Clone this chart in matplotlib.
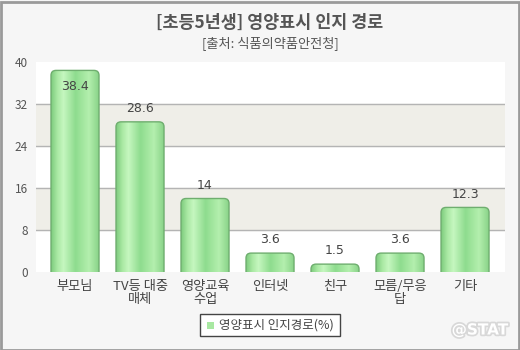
import numpy as np
import matplotlib.pyplot as plt
from matplotlib.patches import FancyBboxPatch, Rectangle
from matplotlib.colors import LinearSegmentedColormap
import matplotlib.patheffects as pe

plt.rcParams['font.family'] = ['Noto Sans CJK KR', 'DejaVu Sans']

categories = ['부모님', 'TV등 대중\n매체', '영양교육\n수업', '인터넷', '친구', '모름/무응\n답', '기타']
values = [38.4, 28.6, 14, 3.6, 1.5, 3.6, 12.3]
value_labels = ['38.4', '28.6', '14', '3.6', '1.5', '3.6', '12.3']
yticks = [0, 8, 16, 24, 32, 40]
series_name = '영양표시 인지경로(%)'

W, H = 520, 350
fig = plt.figure(figsize=(W / 100, H / 100), dpi=100)
fig.patch.set_facecolor('#f6f6f6')
fig.patches.append(Rectangle((0.5 / W, 0.5 / H), 1 - 2 / W, 1 - 2 / H, transform=fig.transFigure,
                             fill=False, edgecolor='#9a9a9a', linewidth=2))

# plot area in pixels: x 36..505, y 62..272
ax = fig.add_axes([36 / W, (H - 272) / H, (505 - 36) / W, (272 - 62) / H])
ax.set_facecolor('white')

# alternating bands and grid lines
for lo in (8, 24):
    ax.axhspan(lo, lo + 8, color='#efeee8', zorder=0)
for t in yticks[1:-1]:
    ax.axhline(t, color='#b4b4b4', linewidth=1, zorder=1)

for s in ax.spines.values():
    s.set_visible(False)
ax.set_yticks(yticks)
ax.set_yticklabels([str(t) for t in yticks])
ax.tick_params(axis='y', length=0, pad=6, labelsize=8.5, labelcolor='#555555')
ax.set_xticks(range(len(categories)))
ax.set_xticklabels(categories, linespacing=1.0)
ax.tick_params(axis='x', length=0, pad=6, labelsize=9.5, labelcolor='#444444')

# cylinder-like gradient for the bars
cmap = LinearSegmentedColormap.from_list('bar', [
    (0.0, '#7fcc7f'), (0.12, '#a8e8a2'), (0.25, '#c6f7c0'),
    (0.5, '#8edc8e'), (0.78, '#b4efae'), (1.0, '#86d186')])
grad = np.linspace(0, 1, 64).reshape(1, -1)

bw = 48 / 65
rx = 5 / 65
ry = 5 * 40 / 210
for i, v in enumerate(values):
    x0 = i - bw / 2
    patch = FancyBboxPatch((x0, -2), bw, v + 2,
                           boxstyle=f'round,pad=0,rounding_size={rx}',
                           mutation_aspect=ry / rx,
                           facecolor='none', edgecolor='#6fae6f', linewidth=1, zorder=4)
    ax.add_patch(patch)
    im = ax.imshow(grad, cmap=cmap, extent=(x0, x0 + bw, 0, v), aspect='auto', zorder=3)
    im.set_clip_path(patch)
    # label above bar, or just inside when it would leave the plot
    if v + 4 > 40:
        ax.text(i, v - 3, value_labels[i], ha='center', va='center', fontsize=9,
                color='#444444', family=['DejaVu Sans'], zorder=5)
    else:
        ax.text(i, v + 2.5, value_labels[i], ha='center', va='center', fontsize=9,
                color='#444444', family=['DejaVu Sans'], zorder=5)

ax.set_xlim(-0.6, 6.615)
ax.set_ylim(0, 40)

fig.text(270 / W, 1 - 23 / H, '[초등5년생] 영양표시 인지 경로', ha='center', va='center',
         fontsize=12.5, fontweight='bold', color='#555555')
fig.text(270 / W, 1 - 43 / H, '[출처: 식품의약품안전청]', ha='center', va='center',
         fontsize=9.5, color='#555555')

# legend box
fig.patches.append(Rectangle((200 / W, 1 - 336 / H), 140 / W, 22 / H, transform=fig.transFigure,
                             facecolor='white', edgecolor='#444444', linewidth=1))
fig.patches.append(Rectangle((207 / W, 1 - 329 / H), 7 / W, 7 / H, transform=fig.transFigure,
                             facecolor='#a8e8a2', edgecolor='none'))
fig.text(219 / W, 1 - 325 / H, series_name, ha='left', va='center', fontsize=9, color='#444444')

fig.text(480 / W, 1 - 330 / H, '@STAT', ha='center', va='center', fontsize=11, fontweight='bold',
         color='white', family=['DejaVu Sans'],
         path_effects=[pe.withStroke(linewidth=2.5, foreground='#d8d8d8')])

fig.savefig('out.png', dpi=100, facecolor=fig.get_facecolor())
